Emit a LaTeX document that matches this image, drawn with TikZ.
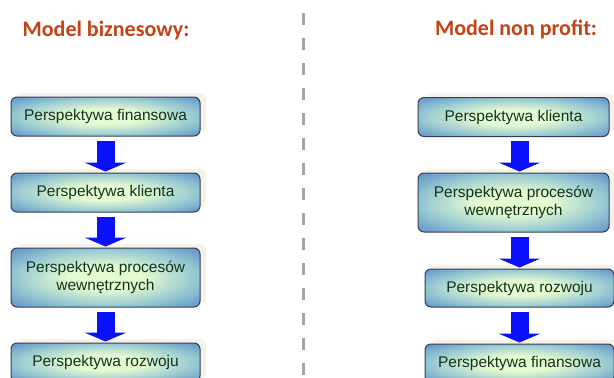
\documentclass[tikz,border=0pt]{standalone}
\usepackage{fontspec}
\setmainfont{Liberation Sans}
\newfontfamily\titlefont{Carlito}
\usetikzlibrary{arrows.meta,shadows}
\definecolor{boxblue}{RGB}{72,122,196}
\definecolor{boxmid}{RGB}{150,200,210}
\definecolor{boxmint}{RGB}{228,250,208}
\definecolor{boxline}{RGB}{52,64,88}
\definecolor{boxtext}{RGB}{18,52,28}
\definecolor{titlered}{RGB}{196,66,22}
\definecolor{glow}{RGB}{247,242,232}
\definecolor{arrowblue}{RGB}{10,16,250}
\definecolor{divgray}{RGB}{165,165,165}
\pgfdeclareradialshading{boxglow}{\pgfpoint{0bp}{0bp}}{color(0bp)=(boxmint); color(10bp)=(boxmint); color(24bp)=(boxmid); color(40bp)=(boxblue); color(70bp)=(boxblue)}

\begin{document}
\begin{tikzpicture}[x=1pt,y=-1pt,
    persp/.style = {draw=boxline, line width=1pt, rounded corners=6pt,
                shading=boxglow, text=boxtext, align=center,
                font=\fontsize{15.5}{18}\selectfont,
                minimum width=189pt, minimum height=#1, inner sep=0pt,
                drop shadow={shadow xshift=6pt, shadow yshift=4pt,
                             fill=glow, opacity=1}},
    persp/.default = 39pt,  % height of a one line box
    flow/.style = {line width=18pt, draw=arrowblue,
                -{Triangle[width=42pt,length=9pt,line width=0pt]},
                shorten <=4pt, shorten >=1pt},
    title/.style = {text=titlered, anchor=base,
                font=\titlefont\bfseries\fontsize{22}{26}\selectfont}
                    ]
    \useasboundingbox (0,0) rectangle (614,378);
    \def\lx{105.5}
    \def\rx{513.5}
    \def\rxx{519.5}
    % titles
    \node[title] at (106,36) (tl) {Model biznesowy:};
    \node[title] at (516,35) (tr) {Model non profit:};
    % divider
    \coordinate (dtop) at (303,13);
    \coordinate (dbot) at (303,378);
    \draw[divgray, line width=3pt, dash pattern=on 12pt off 13pt] (dtop) -- (dbot);
    % left column
    \node[persp] at (\lx,116.5) (l1) {Perspektywa finansowa};
    \node[persp] at (\lx,192.5) (l2) {Perspektywa klienta};
    \node[persp=59pt] at (\lx,277.5) (l3) {Perspektywa procesów\\wewnętrznych};
    \node[persp] at (\lx,362.5) (l4) {Perspektywa rozwoju};
    % right column
    \node[persp, minimum width=191pt] at (\rx,117) (r1) {Perspektywa klienta};
    \node[persp=59pt, minimum width=191pt] at (\rx,202.5) (r2) {Perspektywa procesów\\wewnętrznych};
    \node[persp=38pt] at (\rxx,288) (r3) {Perspektywa rozwoju};
    \node[persp] at (\rxx,363.5) (r4) {Perspektywa finansowa};
    % arrows
    \draw[flow] (l1) -- (l2);
    \draw[flow] (l2) -- (l3);
    \draw[flow] (l3) -- (l4);
    \draw[flow] (r1.south -| r3.center) -- (r2.north -| r3.center);
    \draw[flow] (r2.south -| r3.center) -- (r3);
    \draw[flow] (r3) -- (r4);
\end{tikzpicture}
\end{document}
